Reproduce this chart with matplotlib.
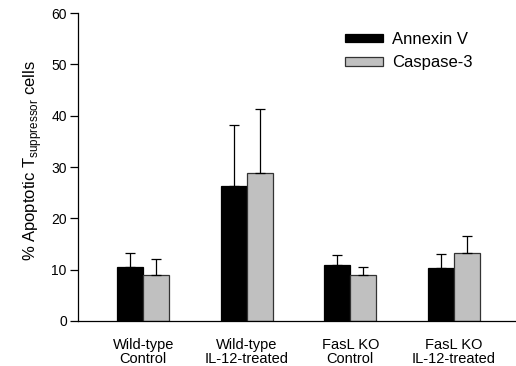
import numpy as np
import matplotlib
matplotlib.use("Agg")
import matplotlib.pyplot as plt

plt.rcParams['font.family'] = ['Liberation Sans', 'DejaVu Sans']

groups = ["Wild-type\nControl", "Wild-type\nIL-12-treated", "FasL KO\nControl", "FasL KO\nIL-12-treated"]
annexin = [10.5, 26.3, 10.9, 10.3]
annexin_err = [2.7, 11.9, 2.0, 2.8]
caspase = [9.0, 28.8, 9.0, 13.2]
caspase_err = [3.0, 12.6, 1.5, 3.3]

fig = plt.figure(figsize=(5.16, 3.66), dpi=100)
ax = fig.add_axes([0.151, 0.123, 0.849, 0.841])

x = np.arange(len(groups))
w = 0.25
err_kw = dict(ecolor='black', elinewidth=0.9, capsize=3.5, capthick=0.9)
ax.bar(x - w / 2, annexin, w, color='black', edgecolor='black', linewidth=0.9,
       yerr=[np.zeros(len(x)), annexin_err], error_kw=err_kw, label='Annexin V')
ax.bar(x + w / 2, caspase, w, color='#c0c0c0', edgecolor='#333333', linewidth=0.9,
       yerr=[np.zeros(len(x)), caspase_err], error_kw=err_kw, label='Caspase-3')

ax.set_xlim(-0.63, 3.6)
ax.set_ylim(0, 60)
ax.set_yticks(np.arange(0, 61, 10))
ax.set_xticks(x)
ax.set_xticklabels(groups, fontsize=10.5, linespacing=1.0)
ax.tick_params(axis='x', length=0, pad=12)
ax.tick_params(axis='y', length=6, width=0.9, labelsize=10, direction='out', pad=2)
for s in ['top', 'right']:
    ax.spines[s].set_visible(False)
for s in ['left', 'bottom']:
    ax.spines[s].set_linewidth(0.9)

ax.set_ylabel(r'% Apoptotic T$_{\mathregular{suppressor}}$ cells', fontsize=12)
ax.yaxis.set_label_coords(-0.078, 0.52)

ax.legend(loc='upper left', bbox_to_anchor=(345 / 516, 1 - 32 / 366),
          bbox_transform=fig.transFigure, frameon=False, fontsize=12, borderpad=0,
          borderaxespad=0, handlelength=2.3, handleheight=0.4, handletextpad=0.55,
          labelspacing=0.5)

fig.savefig('out.png', dpi=100)
